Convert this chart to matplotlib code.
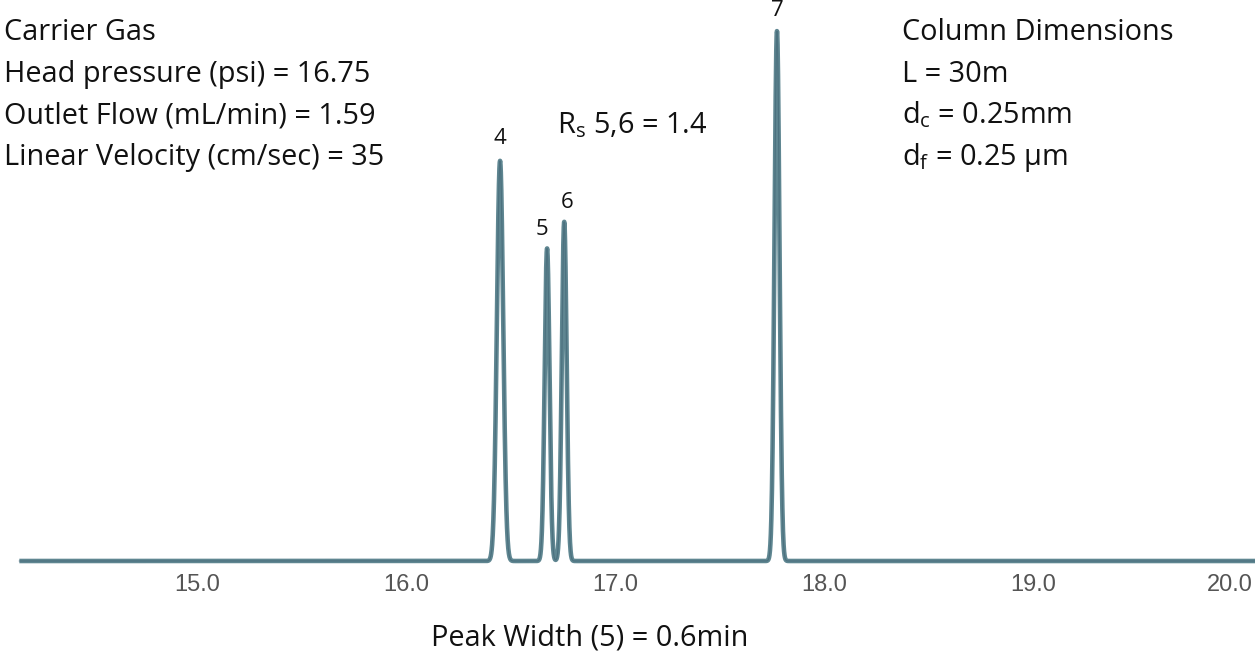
import numpy as np
import matplotlib
matplotlib.use("Agg")
import matplotlib.pyplot as plt
import matplotlib.transforms as mtransforms

# ---- data ----
peak_ids = ["4", "5", "6", "7"]
peak_times = [16.45, 16.675, 16.757, 17.775]     # retention time (min)
peak_heights = [75.5, 59.0, 64.0, 100.0]         # relative response
peak_sigmas = [0.0150, 0.0115, 0.0115, 0.0120]   # peak std dev (min)
time_start, time_end = 14.15, 20.10
tick_values = [15.0, 16.0, 17.0, 18.0, 19.0, 20.0]
tick_labels = ["15.0", "16.0", "17.0", "18.0", "19.0", "20.0"]

carrier_lines = ["Carrier Gas",
                 "Head pressure (psi) = 16.75",
                 "Outlet Flow (mL/min) = 1.59",
                 "Linear Velocity (cm/sec) = 35"]
column_lines = ["Column Dimensions",
                "L = 30m",
                r"d$_\mathregular{c}$ = 0.25mm",
                r"d$_\mathregular{f}$ = 0.25 μm"]
rs_text = r"R$_\mathregular{s}$ 5,6 = 1.4"
width_text = "Peak Width (5) = 0.6min"

# ---- build trace ----
t = np.linspace(time_start, time_end, 8000)
signal = np.zeros_like(t)
for tr, h, s in zip(peak_times, peak_heights, peak_sigmas):
    signal += h * np.exp(-0.5 * ((t - tr) / s) ** 2)

plt.rcParams['mathtext.fontset'] = 'custom'
plt.rcParams['mathtext.rm'] = 'Open Sans'
ann_font = 'Open Sans'
ann_size = 20.8

W, H = 1255, 654
fig = plt.figure(figsize=(W / 100, H / 100), dpi=100)
ax = fig.add_axes([0, (H - 575) / H, 1, 575 / H])
px_per_min = 209.0
x0 = 16.0 - 406 / px_per_min
x1 = 16.0 + (W - 406) / px_per_min
ax.set_xlim(x0, x1)
px_per_unit = 5.3
ax.set_ylim(-(575 - 561) / px_per_unit, 561 / px_per_unit)

ax.plot(t, signal, color='#5f8691', lw=3.3, solid_capstyle='butt')
ax.plot(t, signal, color='#36596a', lw=0.9, alpha=0.45)

for s in ax.spines.values():
    s.set_visible(False)
ax.set_yticks([])
ax.set_xticks(tick_values)
ax.set_xticklabels(tick_labels, fontsize=17, color='#555555', family='Liberation Sans')
ax.tick_params(axis='x', length=0, pad=-0.5)
last = ax.get_xticklabels()[-1]
last.set_transform(last.get_transform() +
                   mtransforms.ScaledTranslation(-0.12, 0, fig.dpi_scale_trans))

# peak labels
label_offsets = [4.2, 3.5, 3.7, 3.8]
label_dx = [0.0, -0.024, 0.014, 0.0]
for pid, tr, h, off, dx in zip(peak_ids, peak_times, peak_heights, label_offsets, label_dx):
    ax.text(tr + dx, h + off, pid, ha='center', va='center', fontsize=16,
            family=ann_font, color='#111111')

def fig_text(xpx, ypx, s, **kw):
    fig.text(xpx / W, 1 - ypx / H, s, **kw)

for i, line in enumerate(carrier_lines):
    fig_text(4, 40 + i * 41.7, line, ha='left', va='baseline', fontsize=ann_size,
             family=ann_font, color='#111111')
for i, line in enumerate(column_lines):
    fig_text(902, 40 + i * 41.7, line, ha='left', va='baseline', fontsize=ann_size,
             family=ann_font, color='#111111')
fig_text(557, 133, rs_text, ha='left', va='baseline', fontsize=ann_size,
         family=ann_font, color='#111111')
fig_text(590, 646, width_text, ha='center', va='baseline', fontsize=ann_size,
         family=ann_font, color='#111111')

fig.savefig('out.png', dpi=100)
